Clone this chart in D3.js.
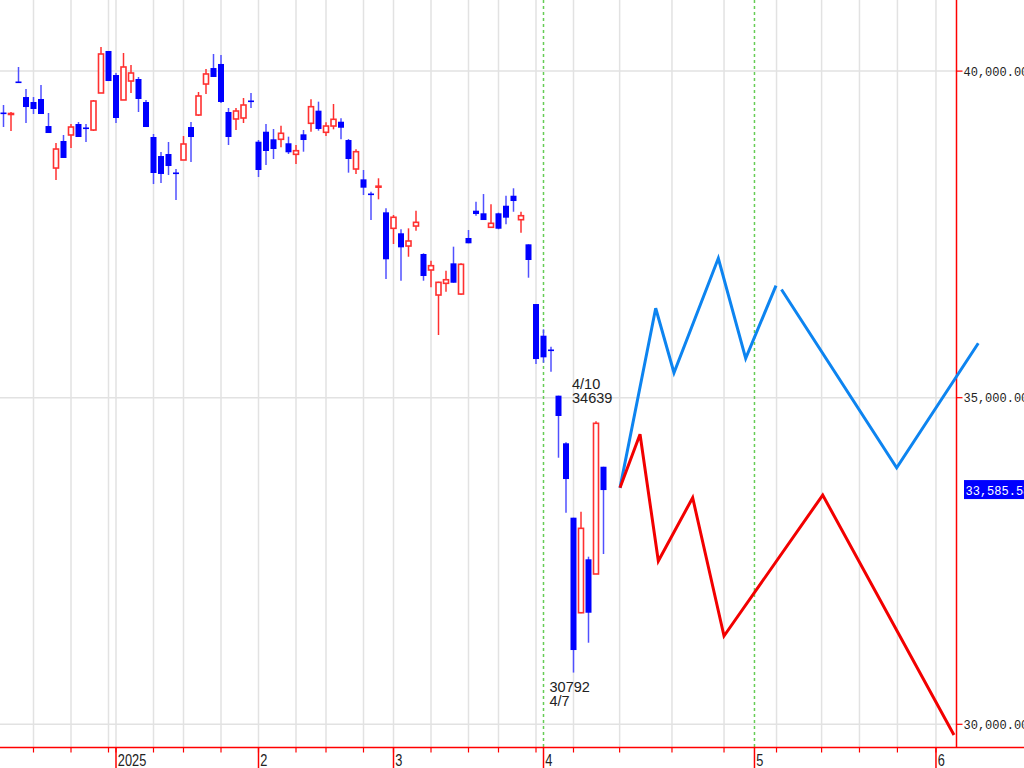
<!DOCTYPE html>
<html><head><meta charset="utf-8">
<script src="https://cdn.jsdelivr.net/npm/d3@7"></script>
<style>html,body{margin:0;padding:0;background:#fff;overflow:hidden}</style>
</head><body><svg id="c" width="1024" height="768"></svg>
<script>
// ---- data ----
const dates = ["12/10","12/11","12/12","12/13","12/16","12/17","12/18","12/19","12/20","12/23","12/24","12/25","12/26","12/27","12/30",
"1/6","1/7","1/8","1/9","1/10","1/14","1/15","1/16","1/17","1/20","1/21","1/22","1/23","1/24","1/27","1/28","1/29","1/30","1/31",
"2/3","2/4","2/5","2/6","2/7","2/10","2/12","2/13","2/14","2/17","2/18","2/19","2/20","2/21","2/25","2/26","2/27","2/28",
"3/3","3/4","3/5","3/6","3/7","3/10","3/11","3/12","3/13","3/14","3/17","3/18","3/19","3/21","3/24","3/25","3/26","3/27","3/28","3/31",
"4/1","4/2","4/3","4/4","4/7","4/8","4/9","4/10","4/11"];
const openV = [39366,39336,39841,39603,39527,39573,39159,38516,38930,39022,39190,39137,39098,39665,40308,
39940,39558,39848,39879,39527,38991,38700,38731,38448,38639,39144,39328,39802,40047,40109,39374,39267,39282,39550,
38919,39072,38956,38956,38895,38726,39032,39201,39394,39063,39159,39225,38945,38501,38343,38126,38223,37838,
37593,37517,37322,37628,37200,36955,36572,36751,37057,36587,37445,37863,37823,37609,37823,37939,38092,37725,37348,36434,
35949,35738,35031,34302,33163,31708,32526,32301,33943];
const highV = [39481,39374,40063,39726,39603,39787,39359,38899,39022,39190,39221,39190,39558,40369,40308,
39971,40277,40093,39910,39558,39037,38761,38915,38501,39006,39221,39680,40032,40262,40246,39435,39435,39588,39665,
38945,39190,39114,39164,38996,38869,39098,39568,39532,39216,39496,39277,38960,38803,38486,38154,38359,37899,
37797,37578,37593,37863,37211,37097,36776,36944,37312,37057,37567,38000,38118,37961,37833,38092,38206,37847,37348,36434,
36047,35780,35031,34317,33163,33254,32566,34639,33943];
const lowV = [39144,39083,39818,39205,39343,39343,39052,38333,38670,38823,38991,38915,39083,39665,39848,
39205,39558,39665,39374,39144,38271,38287,38409,38027,38639,38608,39313,39649,39910,39512,38869,39098,39205,39435,
38379,38562,38654,38833,38731,38578,38766,39072,39088,39006,39109,38956,38445,38425,38103,37720,38037,36817,
37353,36791,37158,37557,36791,36690,35960,36623,36760,36572,37364,37786,37720,37609,37578,37654,37847,37526,36837,35516,
35536,35398,34081,33239,30792,31699,31249,32301,32607];
const closeV = [39351,39351,39825,39450,39420,39343,39052,38807,38670,39144,38991,39121,39542,40262,39848,
39282,40063,39971,39573,39144,38440,38425,38547,38432,38884,38991,39619,39956,39910,39527,38991,39389,39481,39535,
38486,38777,38807,39048,38757,38781,38945,39455,39114,39159,39262,39133,38654,38766,38215,38111,38238,37119,
37762,37302,37399,37685,36863,37021,36766,36806,36760,37042,37364,37812,37720,37670,37587,37756,38011,37786,37108,35592,
35618,35723,34720,33755,31137,33000,31708,34608,33586];

// projection lines: [slot, value]
const blueProjA = [[82.2,33620],[86.96,36369],[89.4,35383],[95.31,37134],[98.96,35603],[103.0,36715]];
const blueProjB = [[103.73,36657],[119.09,33928],[129.97,35833]];
const redProj   = [[82.2,33620],[84.87,34440],[87.31,32500],[91.89,33469],[96.07,31352],[109.23,33510],[126.73,29836]];

// axis / grid
const yTicks = [30000,35000,40000];
const weekGrid = [4,9,14,15,20,24,29,34,39,43,48,52,57,62,66,71,76,82.15,89.13,96.07,103.07,109.08,114.13,119.19,124.33];
const monthLines = [72,100.13];           // green dotted
const monthTicks = [15,34,52,72,100.13,124.33];
const monthLabels = ["2025","2","3","4","5","6"];
const lastPrice = "33,585.58";
const notes = [{i:79, kind:"high"},{i:76, kind:"low"}];

// ---- drawing ----
const svg = d3.select("#c");
const x = d3.scaleLinear().domain([0,100]).range([3.5,753.5]);
const y = d3.scaleLinear().domain([30000,40000]).range([724.3,71.1]);
const axisX = 956.5, axisY = 747.5;

// vertical weekly grid
svg.append("g").selectAll("line").data(weekGrid).join("line")
  .attr("x1",d=>x(d)).attr("x2",d=>x(d)).attr("y1",0).attr("y2",axisY)
  .attr("stroke","#e2e2e2").attr("stroke-width",1.5);
// horizontal grid
svg.append("g").selectAll("line").data(yTicks).join("line")
  .attr("x1",0).attr("x2",axisX).attr("y1",d=>y(d)).attr("y2",d=>y(d))
  .attr("stroke","#e2e2e2").attr("stroke-width",1.5);
// green dotted month lines
svg.append("g").selectAll("line").data(monthLines).join("line")
  .attr("x1",d=>x(d)).attr("x2",d=>x(d)).attr("y1",0).attr("y2",axisY)
  .attr("stroke","#66cc55").attr("stroke-width",1.5).attr("stroke-dasharray","3,3");

// candles
const idx = d3.range(dates.length);
const cg = svg.append("g");
idx.forEach(i=>{
  const o=openV[i], c=closeV[i], up = c>o;
  const cx = x(i);
  const col = up ? "#ff3030" : "#5050ff";
  cg.append("line").attr("x1",cx).attr("x2",cx).attr("y1",y(highV[i])).attr("y2",y(lowV[i]))
    .attr("stroke",col).attr("stroke-width",1.5);
  const top = y(Math.max(o,c)), h = Math.abs(y(o)-y(c));
  if(up){
    cg.append("rect").attr("x",cx-2.5).attr("width",5).attr("y",top).attr("height",Math.max(h,0.8))
      .attr("fill","#fff").attr("stroke","#ff3030").attr("stroke-width",1.6);
  } else {
    cg.append("rect").attr("x",cx-3).attr("width",6).attr("y",top).attr("height",Math.max(h,1.6))
      .attr("fill","#0000ff");
  }
});

// axes
svg.append("line").attr("x1",0).attr("x2",1024).attr("y1",axisY).attr("y2",axisY).attr("stroke","#ff0000").attr("stroke-width",1.5);
svg.append("line").attr("x1",axisX).attr("x2",axisX).attr("y1",0).attr("y2",axisY).attr("stroke","#ff0000").attr("stroke-width",1.5);
svg.append("g").selectAll("line").data(weekGrid).join("line")
  .attr("x1",d=>x(d)).attr("x2",d=>x(d)).attr("y1",axisY).attr("y2",axisY+5)
  .attr("stroke","#ff0000").attr("stroke-width",1.2);
svg.append("g").selectAll("line").data(monthTicks).join("line")
  .attr("x1",d=>x(d)).attr("x2",d=>x(d)).attr("y1",axisY).attr("y2",768)
  .attr("stroke","#ff0000").attr("stroke-width",1.5);
svg.append("g").selectAll("text").data(monthTicks).join("text")
  .attr("transform",d=>`translate(${x(d)+1.8},766) scale(0.8,1)`)
  .attr("font-family","'Liberation Sans',Arial,sans-serif").attr("font-size",16).attr("fill","#222")
  .text((d,i)=>monthLabels[i]);
// y ticks and labels
svg.append("g").selectAll("line").data(yTicks).join("line")
  .attr("x1",axisX).attr("x2",axisX+6).attr("y1",d=>y(d)).attr("y2",d=>y(d))
  .attr("stroke","#ff0000").attr("stroke-width",1.2);
svg.append("g").selectAll("text").data(yTicks).join("text")
  .attr("x",963.5).attr("y",d=>y(d)+4.5)
  .attr("font-family","'Liberation Mono','DejaVu Sans Mono',monospace").attr("font-size",12).attr("fill","#222")
  .text(d=>d3.format(",.2f")(d));
// last price box
const ly = y(closeV[closeV.length-1]);
svg.append("rect").attr("x",964).attr("y",ly-10).attr("width",60).attr("height",19).attr("fill","#0000ff");
svg.append("text").attr("x",965.5).attr("y",ly+4.5)
  .attr("font-family","'Liberation Mono','DejaVu Sans Mono',monospace").attr("font-size",12).attr("fill","#fff")
  .text(lastPrice);

// projection lines
const line = d3.line().x(d=>x(d[0])).y(d=>y(d[1]));
[[blueProjA,"#0d84f0"],[blueProjB,"#0d84f0"],[redProj,"#f20000"]].forEach(([d,col])=>{
  svg.append("path").datum(d).attr("d",line).attr("fill","none").attr("stroke",col)
    .attr("stroke-width",3).attr("stroke-linejoin","miter");
});

// annotations
notes.forEach(n=>{
  const cx = x(n.i)-24;
  const tg = svg.append("g").attr("font-family","'Liberation Sans',Arial,sans-serif").attr("font-size",14.5).attr("fill","#222");
  if(n.kind==="high"){
    const yy = y(highV[n.i]);
    tg.append("text").attr("x",cx).attr("y",yy-32).text(dates[n.i]);
    tg.append("text").attr("x",cx).attr("y",yy-18).text(highV[n.i]);
  } else {
    const yy = y(lowV[n.i]);
    tg.append("text").attr("x",cx).attr("y",yy+19.5).text(lowV[n.i]);
    tg.append("text").attr("x",cx).attr("y",yy+33.5).text(dates[n.i]);
  }
});
</script></body></html>
